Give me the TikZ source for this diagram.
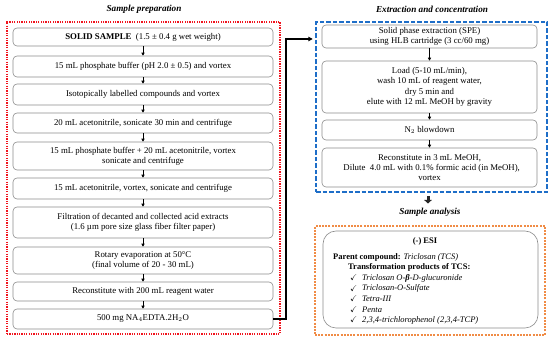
\documentclass[tikz,border=0pt]{standalone}
\usepackage{amssymb}
\usepackage{bm}
\usepackage{fontspec}
\setmainfont{Liberation Serif}
\usetikzlibrary{arrows.meta}
\definecolor{framered}{RGB}{240,20,30}
\definecolor{frameblue}{RGB}{30,110,200}
\definecolor{frameorange}{RGB}{240,140,70}
\begin{document}
\begin{tikzpicture}[x=1pt,y=-1pt,
  box/.style={draw=black!45, line width=0.6pt, rounded corners=4pt, align=center, inner sep=0pt, font=\fontsize{8.8}{10.2}\selectfont},
  lbox/.style={box, minimum width=260pt},
  rbox/.style={box, minimum width=215pt},
  sarrow/.style={-{Triangle[length=3pt,width=3.2pt]}, line width=0.7pt},
  titletext/.style={font=\fontsize{9.2}{10}\selectfont\bfseries\itshape},
  plain/.style={inner sep=0pt, font=\fontsize{8.5}{10}\selectfont},
]
\useasboundingbox (0,0) rectangle (550,344);

% frames
\node[draw=framered, line width=1.4pt, dash pattern=on 1.3pt off 1.1pt, minimum width=273pt, minimum height=312pt, inner sep=0pt] (red) at (143.5,178) {};
\node[draw=frameblue, line width=1.5pt, dash pattern=on 4.5pt off 2pt, minimum width=231pt, minimum height=170pt, inner sep=0pt] (blue) at (431.5,107) {};
\node[draw=frameorange, line width=2.2pt, dash pattern=on 2pt off 1.2pt, minimum width=230pt, minimum height=109pt, inner sep=0pt] (orange) at (430,280.5) {};

% titles
\node[titletext] (t1) at (144,9) {Sample preparation};
\node[titletext] (t2) at (432,9) {Extraction and concentration};
\node[titletext] (t3) at (430,212) {Sample analysis};

% left column
\node[lbox, minimum height=18pt] (l1) at (143,37) {\textbf{SOLID SAMPLE}\ \ (1.5 ± 0.4 g wet weight)};
\node[lbox, minimum height=21pt] (l2) at (143,66.5) {15 mL phosphate buffer (pH 2.0 ± 0.5) and vortex};
\node[lbox, minimum height=21pt] (l3) at (143,94.5) {Isotopically labelled compounds and vortex};
\node[lbox, minimum height=20pt] (l4) at (143,123) {20 mL acetonitrile, sonicate 30 min and centrifuge};
\node[lbox, minimum height=28pt] (l5) at (143,156) {15 mL phosphate buffer + 20 mL acetonitrile, vortex\\sonicate and centrifuge};
\node[lbox, minimum height=21pt] (l6) at (143,188.5) {15 mL acetonitrile, vortex, sonicate and centrifuge};
\node[lbox, minimum height=31pt] (l7) at (143,222.5) {Filtration of decanted and collected acid extracts\\(1.6 µm pore size glass fiber filter paper)};
\node[lbox, minimum height=27pt] (l8) at (143,260.5) {Rotary evaporation at 50°C\\(final volume of 20 - 30 mL)};
\node[lbox, minimum height=19pt] (l9) at (143,291.5) {Reconstitute with 200 mL reagent water};
\node[lbox, minimum height=20pt] (l10) at (143,319) {500 mg NA$_4$EDTA.2H$_2$O};

\foreach \a/\b in {l1/l2,l2/l3,l3/l4,l4/l5,l5/l6,l6/l7,l7/l8,l8/l9,l9/l10}
  \draw[sarrow] (\a.south) -- (\b.north);

% right column
\node[rbox, minimum height=23pt] (r1) at (429.5,36.5) {Solid phase extraction (SPE)\\using HLB cartridge (3 cc/60 mg)};
\node[rbox, minimum height=52pt] (r2) at (429.5,87) {Load (5-10 mL/min),\\wash 10 mL of reagent water,\\dry 5 min and\\elute with 12 mL MeOH by gravity};
\node[rbox, minimum height=20pt] (r3) at (429.5,130) {N$_2$ blowdown};
\node[rbox, minimum height=39pt] (r4) at (429.5,167.5) {Reconstitute in 3 mL MeOH,\\\ \ Dilute\ \ 4.0 mL with 0.1\% formic acid (in MeOH),\\vortex};

\foreach \a/\b in {r1/r2,r2/r3,r3/r4}
  \draw[sarrow] (\a.south) -- (\b.north);

% connector from left column to right column
\coordinate (c1) at (286,39);
\draw[line width=1.1pt, -{Triangle[length=4.5pt,width=4.5pt]}, shorten >=2.5pt] (l10.east) -| (c1) -- (blue.west |- c1);

% fat arrow
\coordinate (fa1) at (428,196);
\coordinate (fa2) at (428,203.5);
\draw[line width=3pt, black!85, -{Triangle[length=3.5pt,width=7.5pt]}] (fa1) -- (fa2);

% analysis box
\node[draw=black!45, line width=0.6pt, rounded corners=13pt, minimum width=215pt, minimum height=97pt, inner sep=0pt] (esi) at (430.5,279.5) {};
\node[plain, font=\fontsize{8.5}{10}\selectfont\bfseries] (esit) at (425,241) {(-) ESI};
\node[plain, anchor=west] (pc) at (333,257) {\textbf{Parent compound:} \textit{Triclosan (TCS)}};
\node[plain, anchor=west] (tp) at (348,267.5) {\textbf{Transformation products of TCS:}};
\foreach \y/\txt [count=\i] in {278/{Triclosan O-\textbf{β}-D-glucuronide},288.5/{Triclosan-O-Sulfate},299/{Tetra-III},309.5/{Penta},320/{2,3,4-trichlorophenol (2,3,4-TCP)}}{
  \node[plain, anchor=west] (ck\i) at (350,\y) {$\checkmark$};
  \node[plain, anchor=west] (it\i) at (362,\y) {\textit{\txt}};
}
\end{tikzpicture}
\end{document}
